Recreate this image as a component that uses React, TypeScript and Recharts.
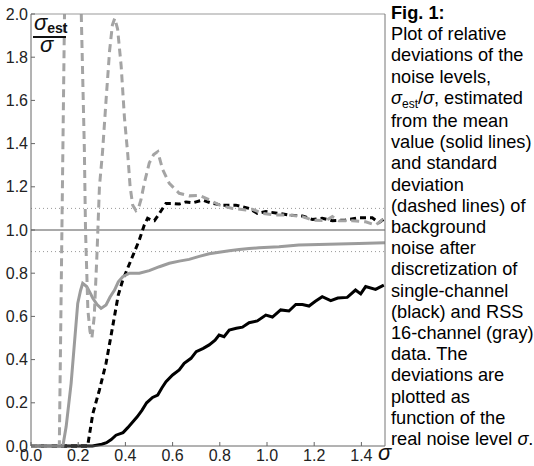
import React from 'react';
import { LineChart, Line, XAxis, YAxis, ReferenceLine } from 'recharts';

// [sigma, sigma_est / sigma]
const blackMean: [number, number][] = [
  [0, 0], [0.26, 0], [0.3, 0.008], [0.32, 0.015], [0.34, 0.03], [0.36, 0.05], [0.39, 0.062],
  [0.41, 0.085], [0.43, 0.11], [0.45, 0.135], [0.47, 0.165], [0.49, 0.2], [0.515, 0.225],
  [0.537, 0.236], [0.555, 0.27], [0.572, 0.298], [0.6, 0.329], [0.628, 0.352], [0.649, 0.383],
  [0.678, 0.406], [0.7, 0.437], [0.73, 0.452], [0.755, 0.468], [0.78, 0.49], [0.797, 0.514],
  [0.818, 0.506], [0.84, 0.537], [0.87, 0.545], [0.896, 0.55], [0.924, 0.571], [0.959, 0.579],
  [0.995, 0.606], [1.023, 0.597], [1.058, 0.63], [1.093, 0.625], [1.122, 0.655], [1.15, 0.655],
  [1.178, 0.648], [1.205, 0.67], [1.234, 0.691], [1.27, 0.673], [1.3, 0.685], [1.34, 0.688],
  [1.375, 0.722], [1.397, 0.704], [1.418, 0.738], [1.46, 0.725], [1.495, 0.745],
];

const blackStd: [number, number][] = [
  [0, 0], [0.24, 0], [0.262, 0.15], [0.29, 0.26], [0.318, 0.383], [0.346, 0.553], [0.37, 0.7],
  [0.389, 0.769], [0.424, 0.861], [0.459, 0.954], [0.48, 1.023], [0.494, 1.054], [0.51, 1.045],
  [0.523, 1.043], [0.544, 1.077], [0.572, 1.123], [0.6, 1.123], [0.628, 1.12], [0.657, 1.13],
  [0.685, 1.126], [0.727, 1.138], [0.77, 1.123], [0.811, 1.115], [0.868, 1.115], [0.924, 1.1],
  [0.959, 1.077], [0.995, 1.085], [1.051, 1.077], [1.093, 1.069], [1.15, 1.065], [1.192, 1.049],
  [1.234, 1.054], [1.277, 1.043], [1.333, 1.046], [1.389, 1.057], [1.446, 1.057], [1.474, 1.034],
  [1.5, 1.054],
];

const grayMean: [number, number][] = [
  [0, 0], [0.135, 0], [0.149, 0.09], [0.17, 0.29], [0.184, 0.475], [0.198, 0.66], [0.21, 0.72],
  [0.219, 0.753], [0.236, 0.738], [0.25, 0.71], [0.262, 0.684], [0.28, 0.655], [0.297, 0.637],
  [0.318, 0.653], [0.335, 0.69], [0.354, 0.722], [0.37, 0.76], [0.389, 0.784], [0.417, 0.8],
  [0.459, 0.8], [0.501, 0.812], [0.544, 0.83], [0.586, 0.846], [0.628, 0.856], [0.67, 0.864],
  [0.713, 0.878], [0.755, 0.89], [0.797, 0.897], [0.84, 0.904], [0.882, 0.91], [0.924, 0.914],
  [0.966, 0.918], [1.051, 0.922], [1.135, 0.93], [1.22, 0.933], [1.304, 0.935], [1.389, 0.938],
  [1.5, 0.941],
];

// null = the curve leaves the plot above 2.0
const grayStd: ([number, number] | [number, null])[] = [
  [0, 0], [0.12, 0], [0.142, 2.0], [0.18, null], [0.213, 2.0], [0.226, 1.38], [0.231, 1.0],
  [0.241, 0.63], [0.25, 0.53], [0.258, 0.5], [0.268, 0.6], [0.28, 0.9], [0.29, 1.2],
  [0.303, 1.36], [0.318, 1.6], [0.333, 1.83], [0.345, 1.95], [0.355, 1.98], [0.367, 1.93],
  [0.382, 1.76], [0.396, 1.52], [0.41, 1.35], [0.42, 1.2], [0.431, 1.115], [0.445, 1.09],
  [0.455, 1.1], [0.466, 1.14], [0.48, 1.216], [0.501, 1.31], [0.52, 1.35], [0.537, 1.363],
  [0.558, 1.28], [0.586, 1.216], [0.628, 1.17], [0.67, 1.158], [0.713, 1.16], [0.755, 1.14],
  [0.797, 1.116], [0.854, 1.1], [0.91, 1.093], [0.938, 1.096], [0.981, 1.077], [1.037, 1.069],
  [1.093, 1.069], [1.15, 1.062], [1.192, 1.046], [1.249, 1.043], [1.277, 1.062], [1.305, 1.043],
  [1.361, 1.043], [1.418, 1.038], [1.46, 1.023], [1.488, 1.046], [1.5, 1.04],
];

const xTicks = [0, 0.2, 0.4, 0.6, 0.8, 1.0, 1.2, 1.4];
const yTicks = [0, 0.2, 0.4, 0.6, 0.8, 1.0, 1.2, 1.4, 1.6, 1.8, 2.0];

const captionLines = [
  'Plot of relative',
  'deviations of the',
  'noise levels,',
  'SIGMA_LINE',
  'from the mean',
  'value (solid lines)',
  'and standard',
  'deviation',
  '(dashed lines) of',
  'background',
  'noise after',
  'discretization of',
  'single-channel',
  '(black) and RSS',
  '16-channel (gray)',
  'data. The',
  'deviations are',
  'plotted as',
  'function of the',
  'LAST_LINE',
];

const toRows = (pts: [number, number | null][]) => pts.map(([x, y]) => ({ x, y }));

const font = '"Liberation Sans", Arial, sans-serif';
const tickStyle = { fill: '#222', fontSize: 16, fontFamily: font };
const fmt = (v: number) => v.toFixed(1);

export default function App() {
  return (
    <div style={{ position: 'absolute', left: 0, top: 0, width: 534, height: 466, background: '#fff', overflow: 'hidden' }}>
      <LineChart width={534} height={466} margin={{ top: 13, right: 148, bottom: 0, left: 0 }}>
        <XAxis
          xAxisId="bottom"
          type="number"
          dataKey="x"
          domain={[0, 1.5]}
          ticks={xTicks}
          tickFormatter={fmt}
          height={20}
          tickSize={-4}
          tickMargin={8}
          stroke="#666"
          tick={tickStyle}
          interval={0}
        />
        <XAxis
          xAxisId="top"
          orientation="top"
          type="number"
          dataKey="x"
          domain={[0, 1.5]}
          ticks={xTicks}
          height={1}
          tickSize={-4}
          tick={false}
          stroke="#999"
        />
        <YAxis
          yAxisId="left"
          type="number"
          domain={[0, 2]}
          ticks={yTicks}
          tickFormatter={fmt}
          width={31}
          tickSize={-4}
          tickMargin={7}
          stroke="#666"
          tick={tickStyle}
          interval={0}
        />
        <YAxis
          yAxisId="right"
          orientation="right"
          type="number"
          domain={[0, 2]}
          ticks={yTicks}
          width={1}
          tickSize={-4}
          tick={false}
          stroke="#777"
        />
        <ReferenceLine xAxisId="bottom" yAxisId="left" y={1.1} stroke="#999" strokeDasharray="1 3" />
        <ReferenceLine xAxisId="bottom" yAxisId="left" y={0.9} stroke="#999" strokeDasharray="1 3" />
        <ReferenceLine xAxisId="bottom" yAxisId="left" y={1.0} stroke="#555" />
        <Line xAxisId="bottom" yAxisId="left" data={toRows(blackMean)} dataKey="y" type="linear"
          stroke="#000" strokeWidth={3} dot={false} isAnimationActive={false} />
        <Line xAxisId="bottom" yAxisId="left" data={toRows(blackStd)} dataKey="y" type="linear"
          stroke="#000" strokeWidth={3} strokeDasharray="6 4" dot={false} isAnimationActive={false} />
        <Line xAxisId="bottom" yAxisId="left" data={toRows(grayMean)} dataKey="y" type="linear"
          stroke="#9c9c9c" strokeWidth={3} dot={false} isAnimationActive={false} />
        <Line xAxisId="bottom" yAxisId="left" data={toRows(grayStd)} dataKey="y" type="linear"
          stroke="#a4a4a4" strokeWidth={3} strokeDasharray="8 5" dot={false} connectNulls={false}
          isAnimationActive={false} />
      </LineChart>

      {/* y-axis label: sigma_est / sigma */}
      <div style={{ position: 'absolute', left: 34, top: 12, fontFamily: font, color: '#111', lineHeight: 1 }}>
        <span style={{ fontStyle: 'italic', fontSize: 22 }}>σ</span>
        <span style={{ fontWeight: 'bold', fontSize: 14, position: 'relative', top: 3 }}>est</span>
      </div>
      <div style={{ position: 'absolute', left: 33, top: 36, width: 33, height: 1.5, background: '#111' }} />
      <div style={{ position: 'absolute', left: 40, top: 34, fontFamily: font, fontStyle: 'italic', fontSize: 22, color: '#111', lineHeight: 1 }}>
        σ
      </div>

      {/* x-axis label */}
      <div style={{ position: 'absolute', left: 378, top: 442, fontFamily: font, fontStyle: 'italic', fontSize: 22, color: '#111', lineHeight: 1 }}>
        σ
      </div>

      {/* caption */}
      <div style={{ position: 'absolute', left: 391, top: 3, fontFamily: font, fontSize: 18.2, lineHeight: '21.2px', color: '#000', whiteSpace: 'nowrap' }}>
        <div style={{ fontWeight: 'bold' }}>Fig. 1:</div>
        {captionLines.map((t, i) => {
          if (t === 'SIGMA_LINE') {
            return (
              <div key={i}>
                <i>σ</i><span style={{ fontSize: 12, position: 'relative', top: 4 }}>est</span>/<i>σ</i>, estimated
              </div>
            );
          }
          if (t === 'LAST_LINE') {
            return (
              <div key={i}>
                real noise level <i>σ</i>.
              </div>
            );
          }
          return <div key={i}>{t}</div>;
        })}
      </div>
    </div>
  );
}
